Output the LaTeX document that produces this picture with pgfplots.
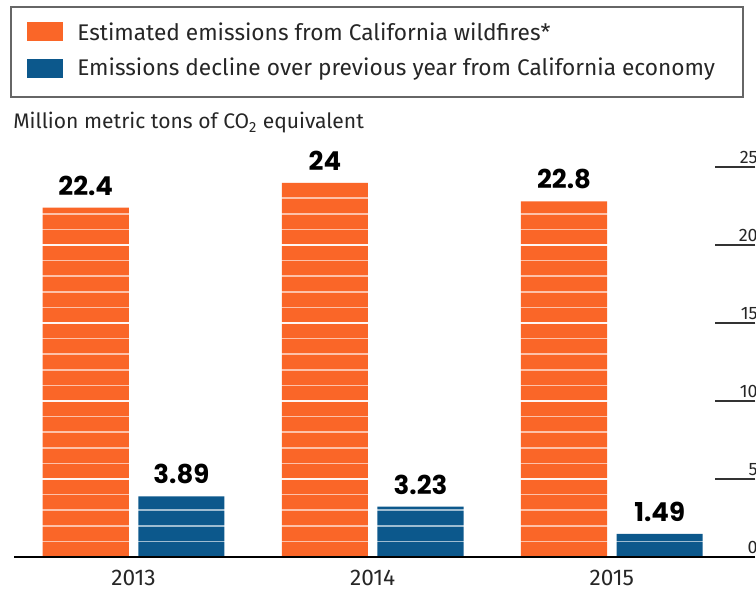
\documentclass[border=0pt]{standalone}
\usepackage{pgfplots}
\pgfplotsset{compat=1.18}
\usepackage{fontspec}
\setmainfont{Fira Sans}
\newfontfamily\numfont{Poppins}
\definecolor{orangebar}{RGB}{250,102,40}
\definecolor{bluebar}{RGB}{12,88,140}
\begin{document}
\begin{tikzpicture}
\useasboundingbox (0,0) rectangle (567pt,-444pt);
\begin{scope}[x=0.75pt,y=-0.75pt]
\draw[black!60, line width=1pt] (11,7) rectangle (743,97);
\fill[orangebar] (27,22) rectangle (63,41);
\fill[bluebar] (27,59) rectangle (63,78);
\node[anchor=west, inner sep=0pt, font=\fontsize{17}{19}\selectfont, text=black!85] at (77,32) {Estimated emissions from California wildfires*};
\node[anchor=west, inner sep=0pt, font=\fontsize{17}{19}\selectfont, text=black!85] at (77,69) {Emissions decline over previous year from California economy};
\node[anchor=west, inner sep=0pt, font=\fontsize{15.8}{17}\selectfont, text=black!85] at (13,123) {Million metric tons of CO\textsubscript{2} equivalent};
\end{scope}
\begin{axis}[
  at={(10.5pt,-417.75pt)}, anchor=south west,
  scale only axis, width=556pt, height=298.35pt,
  xmin=-0.5, xmax=2.6, ymin=0, ymax=25.5,
  axis on top,
  axis x line*=bottom, axis y line*=right,
  x axis line style={black, line width=1.1pt},
  y axis line style={draw=none},
  xtick={0,1,2}, xticklabels={2013,2014,2015},
  xtick style={draw=none},
  xticklabel style={font=\fontsize{17}{18}\selectfont, text=black!85, anchor=north, inner sep=0pt, yshift=-9.5pt},
  ytick={0,5,...,25},
  minor ytick={1,...,25},
  tick align=inside,
  major tick length=30pt, minor tick length=0pt,
  ytick style={black!80, line width=0.9pt},
  /pgf/number format/assume math mode=true,
  yticklabel style={font=\fontsize{13.5}{14}\selectfont, text=black!85, anchor=base east, inner sep=0pt, xshift=2pt, yshift=2.5pt},
  ymajorgrids, yminorgrids,
  major grid style={white, opacity=0.85, line width=1.3pt},
  minor grid style={white, opacity=0.6, line width=1.2pt},
  point meta=explicit symbolic,
  nodes near coords,
  nodes near coords style={font=\numfont\bfseries\fontsize{19.5}{20}\selectfont, text=black, anchor=south, inner sep=0pt, yshift=9pt},
]
\addplot[ybar, bar width=0.36, bar shift=0, fill=orangebar, draw=none]
  coordinates {(-0.2,22.4)[22.4] (0.8,24)[24] (1.8,22.8)[22.8]};
\addplot[ybar, bar width=0.36, bar shift=0, fill=bluebar, draw=none]
  coordinates {(0.2,3.89)[3.89] (1.2,3.23)[3.23] (2.2,1.49)[1.49]};
\end{axis}
\end{tikzpicture}
\end{document}
